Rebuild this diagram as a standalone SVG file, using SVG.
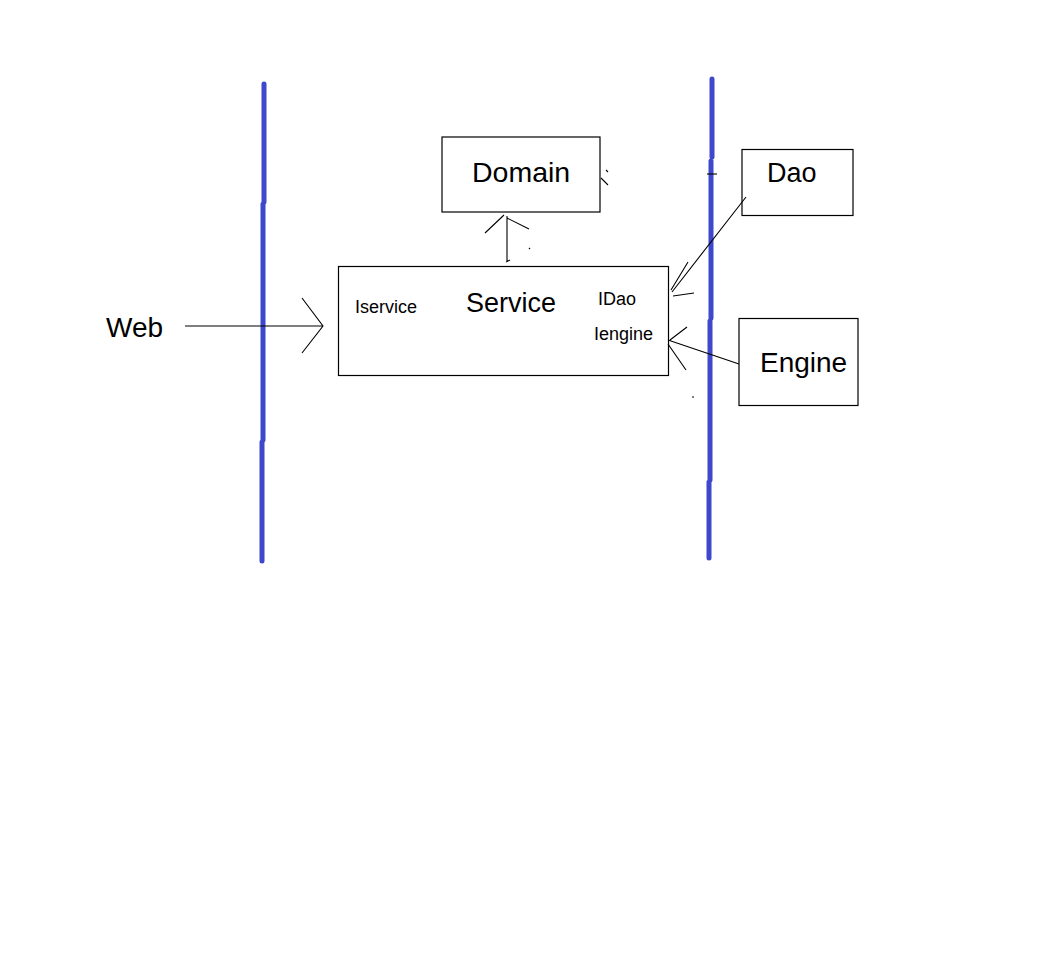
<svg xmlns="http://www.w3.org/2000/svg" width="1048" height="963" viewBox="0 0 1048 963">
<style>
.box{fill:#fff;stroke:#000;stroke-width:1.2}
.t{font-family:"Liberation Sans",Arial,sans-serif;fill:#000}
.c{stroke:#000;stroke-width:1.1;fill:none}
.lane{stroke:#3f48cc;stroke-width:5;stroke-linecap:round;fill:none}
</style>
<rect width="1048" height="963" fill="#fff"/>
<g id="lanes">
<path class="lane" d="M264,84 L264,202 M263,204 L263,440 M262,442 L262,561"/>
<path class="lane" d="M712,79 L712,157 M711,161 L711,318 M710,321 L710,480 M709,482 L709,558"/>
</g>
<g id="web"><text class="t" x="106" y="337" font-size="28">Web</text></g>
<g id="domain">
<rect class="box" x="442" y="137" width="158" height="75"/>
<text class="t" x="472" y="182" font-size="28.5">Domain</text>
</g>
<g id="service">
<rect class="box" x="338.5" y="266.5" width="330" height="109"/>
<text class="t" x="355" y="313" font-size="18">Iservice</text>
<text class="t" x="466" y="312" font-size="27">Service</text>
<text class="t" x="598" y="305" font-size="18">IDao</text>
<text class="t" x="594" y="340" font-size="18">Iengine</text>
</g>
<g id="dao">
<rect class="box" x="742" y="149.5" width="111" height="66"/>
<text class="t" x="767" y="182" font-size="27">Dao</text>
</g>
<g id="engine">
<rect class="box" x="739" y="318.5" width="119" height="87"/>
<text class="t" x="760" y="372" font-size="28">Engine</text>
</g>
<g id="connectors">
<path class="c" d="M185,326 L323,326 M302,298 L323,326 L302,353"/>
<path class="c" d="M507,216 L507,262 M504,215 L485,233 M507,218 L529,229 M506,262 L510,260"/>
<path class="c" d="M529,248 L530,249"/>
<path class="c" d="M601,178 L608,185 M606,170 L608,172"/>
<path class="c" d="M707,174 L717,174"/>
<path class="c" d="M746,197 L672,292 M671,290 L688,262 M673,296 L694,293"/>
<path class="c" d="M739,364 L668,340 M670,340 L687,327 M668,344 L686,370"/>
<path class="c" d="M692,397 L694,397"/>
</g>
</svg>
